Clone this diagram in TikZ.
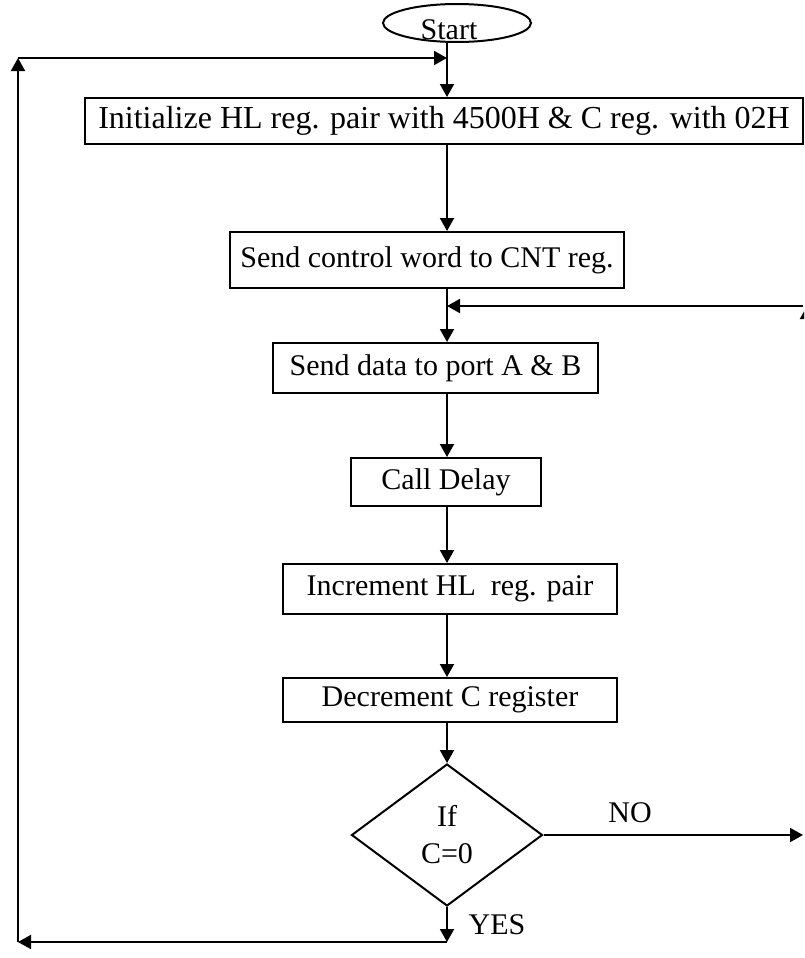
\documentclass[tikz,border=0pt]{standalone}
\usepackage{fontspec}
\setmainfont{Liberation Serif}
\usetikzlibrary{shapes.geometric,arrows.meta,calc}

\begin{document}
\begin{tikzpicture}[x=0.5pt,y=-0.5pt,
    every node/.style={font=\fontsize{15}{18.5}\selectfont},
    box/.style={draw,line width=1pt,inner sep=0pt},
    terminal/.style={draw,ellipse,line width=1pt,minimum width=74pt,minimum height=19pt,inner sep=0pt},
    decision/.style={draw,diamond,line width=1pt,minimum width=95.5pt,minimum height=71pt,inner sep=0pt,align=center},
    flow/.style={line width=1pt,-{Triangle[length=6.5pt,width=7pt]}}]

    \useasboundingbox (0,0) rectangle (804,958);
    \clip (0,0) rectangle (804,958);

    % Start
    \node[terminal] (start) at (457,23) {};
    \node (starttxt) at (449,30) {Start};

    % Process boxes
    \node[box,minimum width=359pt,minimum height=23pt,font=\fontsize{16}{18.5}\selectfont] (init) at (444,121) {Initialize HL reg. pair with 4500H \& C reg. with 02H};
    \node[box,minimum width=197pt,minimum height=28pt] (cnt) at (427,260) {Send control word to CNT reg.};
    \node[box,minimum width=162.5pt,minimum height=25pt] (data) at (435.5,368) {Send data to port A \& B};
    \node[box,minimum width=95pt,minimum height=24pt] (delay) at (446,482) {Call Delay};
    \node[box,minimum width=167pt,minimum height=25pt] (incr) at (450,589) {Increment HL\ \ reg. pair};
    \node[box,minimum width=167pt,minimum height=22pt] (decr) at (450,700) {Decrement C register};

    % Decision
    \node[decision] (cond) at (447,835) {If\\C=0};
    \node (no) at (630,813) {NO};
    \node (yes) at (497,925) {YES};

    % Guide points
    \coordinate (trunk) at (447,0);
    \coordinate (lft) at (18,0);
    \coordinate (rgt) at (807,0);
    \coordinate (edge) at (803,0);
    \coordinate (top) at (0,58);
    \coordinate (back) at (0,306);
    \coordinate (bot) at (0,942);

    % Main flow
    \draw[flow] (start.south -| trunk) -- (init.north -| trunk);
    \draw[flow] (init.south -| trunk) -- (cnt.north -| trunk);
    \draw[flow] (cnt.south -| trunk) -- (data.north -| trunk);
    \draw[flow] (data.south -| trunk) -- (delay.north -| trunk);
    \draw[flow] (delay.south -| trunk) -- (incr.north -| trunk);
    \draw[flow] (incr.south -| trunk) -- (decr.north -| trunk);
    \draw[flow] (decr.south -| trunk) -- (cond.north);

    % YES branch, back to the top
    \draw[flow] (cond.south) -- (bot -| trunk);
    \draw[flow] (bot -| trunk) -- (bot -| lft);
    \draw[flow] (bot -| lft) -- (top -| lft);
    \draw[flow] (top -| lft) -- (top -| trunk);

    % NO branch, back to the data loop
    \draw[flow] (cond.east) -- (cond.east -| edge);
    \draw[flow] (cond.east -| rgt) -- (back -| rgt);
    \draw[flow] (back -| edge) -- (back -| trunk);

\end{tikzpicture}
\end{document}
